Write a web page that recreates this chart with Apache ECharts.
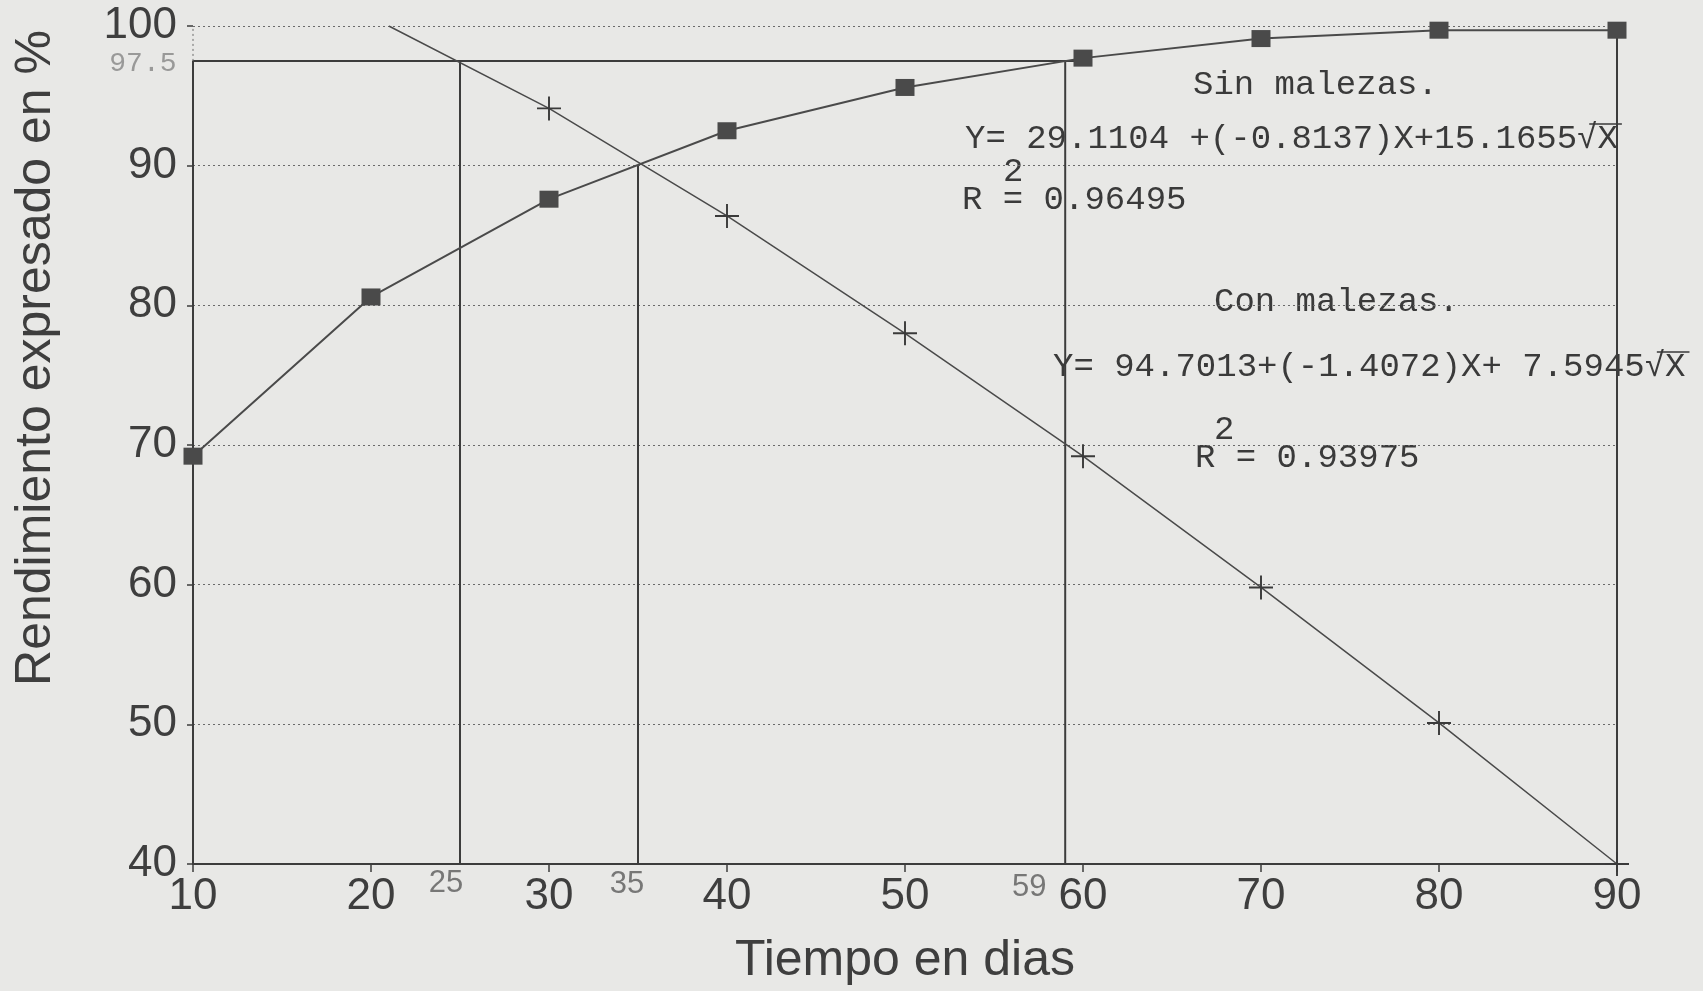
<!DOCTYPE html>
<html>
<head>
<meta charset="utf-8">
<title>Rendimiento vs tiempo</title>
<script src="https://cdn.jsdelivr.net/npm/echarts@6/dist/echarts.min.js"></script>
<style>
  html, body { margin: 0; padding: 0; background: #e8e8e6; }
  #chart { width: 1703px; height: 991px; }
</style>
</head>
<body>
<div id="chart"></div>
<script>
// dias evaluados
const dias = [10, 20, 30, 40, 50, 60, 70, 80, 90]
// rendimiento sin malezas (cuadros)
const sinMalezas = [69.2, 80.6, 87.6, 92.5, 95.6, 97.7, 99.1, 99.7, 99.7]
// rendimiento con malezas (cruces); la curva arranca en 100 cerca del dia 21
const conDias = [21, 30, 40, 50, 60, 70, 80, 90]
const conMalezas = [100, 94.1, 86.4, 78.0, 69.2, 59.8, 50.1, 40.0]
// lineas de referencia verticales y su tope
const refDias = [25, 35, 59]
const refTope = [97.5, 90, 97.5]
const nivelRef = 97.5
const finRef = 60
// ejes
const xTicks = [10, 20, 30, 40, 50, 60, 70, 80, 90]
const yTicks = [40, 50, 60, 70, 80, 90, 100]

const yMin = yTicks[0]
const yMax = yTicks[yTicks.length - 1]
const xMin = xTicks[0]
const xMax = xTicks[xTicks.length - 1]

const ink = '#3c3c3c'
const plus = 'path://M4.6,0 H5.4 V4.6 H10 V5.4 H5.4 V10 H4.6 V5.4 H0 V4.6 H4.6 Z'

const chart = echarts.init(document.getElementById('chart'))

// lineas verticales de referencia
const refSeries = refDias.map((d, i) => ({
  type: 'line',
  silent: true,
  symbol: 'none',
  data: [[d, yMin], [d, refTope[i]]],
  lineStyle: { color: ink, width: 2 },
  z: 2
}))

// pequeñas etiquetas 25 / 35 / 59 y 97.5
const labelOffsets = [[-14, 0], [-11, 1], [-36, 4]]
const refLabels = refDias.map((d, i) => ({
  value: [d, yMin],
  label: {
    formatter: String(d),
    position: 'bottom',
    distance: 3,
    offset: labelOffsets[i],
    fontSize: 31,
    color: '#5a5a5a'
  }
}))
refLabels.push({
  value: [xMin, nivelRef],
  label: {
    formatter: String(nivelRef),
    position: 'left',
    distance: 16,
    offset: [0, 3],
    fontFamily: 'Liberation Mono, monospace',
    fontSize: 28,
    color: '#858585'
  }
})

const option = {
  backgroundColor: '#e8e8e6',
  animation: false,
  textStyle: { fontFamily: 'Liberation Sans, Arial, sans-serif' },
  grid: { left: 193, right: 86, top: 26, bottom: 125 },
  xAxis: {
    type: 'value',
    min: xMin,
    max: xMax,
    interval: 10,
    name: 'Tiempo en dias',
    nameLocation: 'middle',
    nameGap: 72,
    nameTextStyle: { fontSize: 50, color: '#3e3e3e' },
    axisLine: { lineStyle: { color: ink, width: 2 } },
    axisTick: { length: 8, lineStyle: { color: ink, width: 1.5 } },
    axisLabel: { fontSize: 44, color: '#3e3e3e', margin: 11 },
    splitLine: { show: false }
  },
  yAxis: {
    type: 'value',
    min: yMin,
    max: yMax,
    interval: 10,
    axisLine: { show: false },
    axisTick: { show: true, length: 6, lineStyle: { color: ink, width: 1.5 } },
    axisLabel: { fontSize: 44, color: '#3e3e3e', margin: 16 },
    splitLine: { lineStyle: { color: '#6a6a6a', type: [2, 3], width: 1 } }
  },
  graphic: [
    {
      type: 'text',
      x: 36, y: 358,
      rotation: Math.PI / 2,
      style: {
        text: 'Rendimiento expresado en %',
        fontSize: 50,
        fontFamily: 'Liberation Sans, Arial, sans-serif',
        fill: '#3e3e3e',
        align: 'center',
        verticalAlign: 'middle'
      }
    }
  ],
  series: [
    ...refSeries,
    {
      // eje y solido y linea horizontal de 97.5
      type: 'line',
      silent: true,
      symbol: 'none',
      data: [[xMin, yMin], [xMin, nivelRef], [finRef, nivelRef]],
      lineStyle: { color: ink, width: 2 },
      z: 2
    },
    {
      type: 'line',
      silent: true,
      symbol: 'none',
      data: [[xMin, nivelRef], [xMin, yMax]],
      lineStyle: { color: '#6a6a6a', width: 1, type: [2, 3] }
    },
    {
      // borde derecho
      type: 'line',
      silent: true,
      symbol: 'none',
      data: [[xMax, yMin], [xMax, yMax]],
      lineStyle: { color: ink, width: 2 },
      z: 2
    },
    {
      name: 'Sin malezas',
      type: 'line',
      data: dias.map((d, i) => [d, sinMalezas[i]]),
      symbol: 'rect',
      symbolSize: [19, 17],
      itemStyle: { color: '#4a4a4a' },
      lineStyle: { color: '#4a4a4a', width: 2 },
      z: 4
    },
    {
      name: 'Con malezas',
      type: 'line',
      data: conDias.map((d, i) => ({
        value: [d, conMalezas[i]],
        symbol: i === 0 ? 'none' : plus
      })),
      symbolSize: 24,
      itemStyle: { color: '#3a3a3a' },
      lineStyle: { color: '#4a4a4a', width: 1.5 },
      z: 4
    },
    {
      type: 'scatter',
      silent: true,
      data: refLabels,
      symbolSize: 1,
      itemStyle: { color: 'transparent' },
      label: { show: true, fontFamily: 'Liberation Sans, Arial, sans-serif' },
      z: 5
    }
  ]
}

chart.setOption(option)

// ecuaciones de ajuste (texto tipo Courier)
const mono = 'Liberation Mono, Courier New, monospace'
const eqSize = 34
const cw = eqSize * 0.6
const notes = [
  { text: 'Sin malezas.', x: 1193, y: 85 },
  { text: 'Y= 29.1104 +(-0.8137)X+15.1655\u221AX', x: 965, y: 139, root: 30 },
  { text: '2', x: 1003, y: 172 },
  { text: 'R = 0.96495', x: 962, y: 200 },
  { text: 'Con malezas.', x: 1214, y: 302 },
  { text: 'Y= 94.7013+(-1.4072)X+ 7.5945\u221AX', x: 1053, y: 367, root: 29 },
  { text: '2', x: 1214, y: 430 },
  { text: 'R = 0.93975', x: 1195, y: 458 }
]
const extra = []
notes.forEach((n) => {
  extra.push({
    type: 'text',
    x: n.x, y: n.y,
    silent: true,
    style: {
      text: n.text,
      fontFamily: mono,
      fontSize: eqSize,
      fill: '#3a3a3a',
      align: 'left',
      verticalAlign: 'middle'
    }
  })
  if (n.root !== undefined) {
    // raya de la raiz sobre la X
    extra.push({
      type: 'line',
      silent: true,
      shape: {
        x1: n.x + (n.root + 0.6) * cw, y1: n.y - 15,
        x2: n.x + (n.root + 2.2) * cw, y2: n.y - 15
      },
      style: { stroke: '#3a3a3a', lineWidth: 1.5 }
    })
  }
})
chart.setOption({ graphic: option.graphic.concat(extra) })
</script>
</body>
</html>
